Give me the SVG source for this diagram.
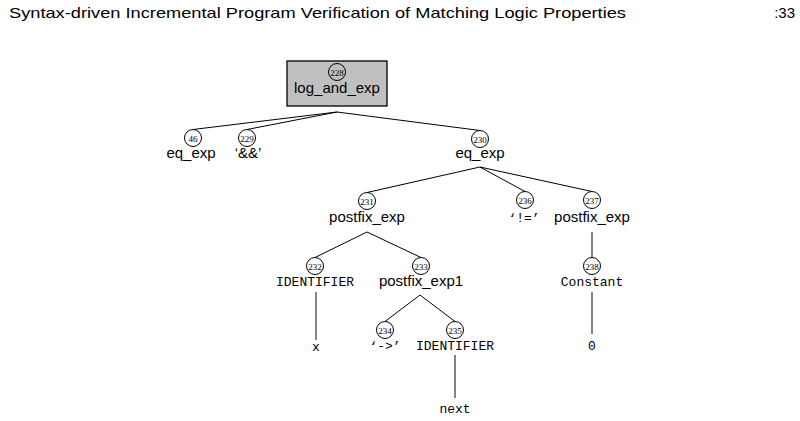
<svg xmlns="http://www.w3.org/2000/svg" width="800" height="421" viewBox="0 0 800 421">
<style>
.bg{fill:#ffffff}
.hdr{font-family:"Liberation Sans","DejaVu Sans",sans-serif;font-size:15px;fill:#000}
.num{font-family:"Liberation Serif","DejaVu Serif",serif;font-size:9px;fill:#000;text-anchor:middle}
.lbl{font-family:"Liberation Sans","DejaVu Sans",sans-serif;font-size:15px;fill:#000;text-anchor:middle}
.mono{font-family:"Liberation Mono","DejaVu Sans Mono",monospace;font-size:13px;fill:#000;text-anchor:middle}
.c{fill:#fff;stroke:#000;stroke-width:1}
.edge{stroke:#000;stroke-width:1;fill:none}
.vedge{stroke:#333;stroke-width:1.2;fill:none}
</style>
<rect class="bg" x="0" y="0" width="800" height="421"/>
<text class="hdr" x="9" y="18" textLength="617" lengthAdjust="spacingAndGlyphs">Syntax-driven Incremental Program Verification of Matching Logic Properties</text>
<text class="hdr" x="795" y="18" text-anchor="end">:33</text>

<g id="connectors">
<line class="edge" x1="337" y1="112" x2="193" y2="129.5"/>
<line class="edge" x1="337" y1="112" x2="247" y2="129.5"/>
<line class="edge" x1="337" y1="112" x2="480" y2="130.5"/>
<line class="edge" x1="480" y1="167" x2="367" y2="192.5"/>
<line class="edge" x1="480" y1="167" x2="525" y2="191.5"/>
<line class="edge" x1="480" y1="167" x2="592" y2="191.5"/>
<line class="edge" x1="367" y1="232" x2="315" y2="257.5"/>
<line class="edge" x1="367" y1="232" x2="421" y2="257.5"/>
<line class="vedge" x1="316" y1="292" x2="316" y2="340"/>
<line class="edge" x1="420" y1="295" x2="385" y2="321.5"/>
<line class="edge" x1="420" y1="295" x2="455" y2="321.5"/>
<line class="vedge" x1="455" y1="355" x2="455" y2="398"/>
<line class="vedge" x1="592" y1="232" x2="592" y2="257.5"/>
<line class="vedge" x1="592" y1="292" x2="592" y2="334"/>
</g>

<g id="n228">
<rect x="287" y="61" width="100" height="45" fill="#c0c0c0" stroke="#000" stroke-width="1.3"/>
<circle cx="337" cy="72" r="8.5" fill="#c0c0c0" stroke="#000" stroke-width="1"/>
<text class="num" x="337" y="75.5">228</text>
<text class="lbl" x="337" y="93">log_and_exp</text>
</g>
<g id="n46">
<circle class="c" cx="193" cy="138" r="8.5"/>
<text class="num" x="193" y="141.5">46</text>
<text class="lbl" x="191" y="158">eq_exp</text>
</g>
<g id="n229">
<circle class="c" cx="247" cy="138" r="8.5"/>
<text class="num" x="247" y="141.5">229</text>
<text class="lbl" x="248" y="158">‘&amp;&amp;’</text>
</g>
<g id="n230">
<circle class="c" cx="480" cy="139" r="8.5"/>
<text class="num" x="480" y="142.5">230</text>
<text class="lbl" x="480" y="158">eq_exp</text>
</g>
<g id="n231">
<circle class="c" cx="367" cy="201" r="8.5"/>
<text class="num" x="367" y="204.5">231</text>
<text class="lbl" x="367" y="222">postfix_exp</text>
</g>
<g id="n236">
<circle class="c" cx="525" cy="200" r="8.5"/>
<text class="num" x="525" y="203.5">236</text>
<text class="mono" x="524" y="222">‘!=’</text>
</g>
<g id="n237">
<circle class="c" cx="592" cy="200" r="8.5"/>
<text class="num" x="592" y="203.5">237</text>
<text class="lbl" x="592" y="222">postfix_exp</text>
</g>
<g id="n232">
<circle class="c" cx="315" cy="266" r="8.5"/>
<text class="num" x="315" y="269.5">232</text>
<text class="mono" x="315" y="286">IDENTIFIER</text>
</g>
<g id="n233">
<circle class="c" cx="421" cy="266" r="8.5"/>
<text class="num" x="421" y="269.5">233</text>
<text class="lbl" x="421" y="286">postfix_exp1</text>
</g>
<g id="n238">
<circle class="c" cx="592" cy="266" r="8.5"/>
<text class="num" x="592" y="269.5">238</text>
<text class="mono" x="592" y="286">Constant</text>
</g>
<g id="leaf_x">
<text class="mono" x="316" y="351">x</text>
</g>
<g id="n234">
<circle class="c" cx="385" cy="330" r="8.5"/>
<text class="num" x="385" y="333.5">234</text>
<text class="mono" x="385" y="350">‘-&gt;’</text>
</g>
<g id="n235">
<circle class="c" cx="455" cy="330" r="8.5"/>
<text class="num" x="455" y="333.5">235</text>
<text class="mono" x="455" y="350">IDENTIFIER</text>
</g>
<g id="leaf_0">
<text class="mono" x="592" y="350">0</text>
</g>
<g id="leaf_next">
<text class="mono" x="455" y="413">next</text>
</g>
</svg>
